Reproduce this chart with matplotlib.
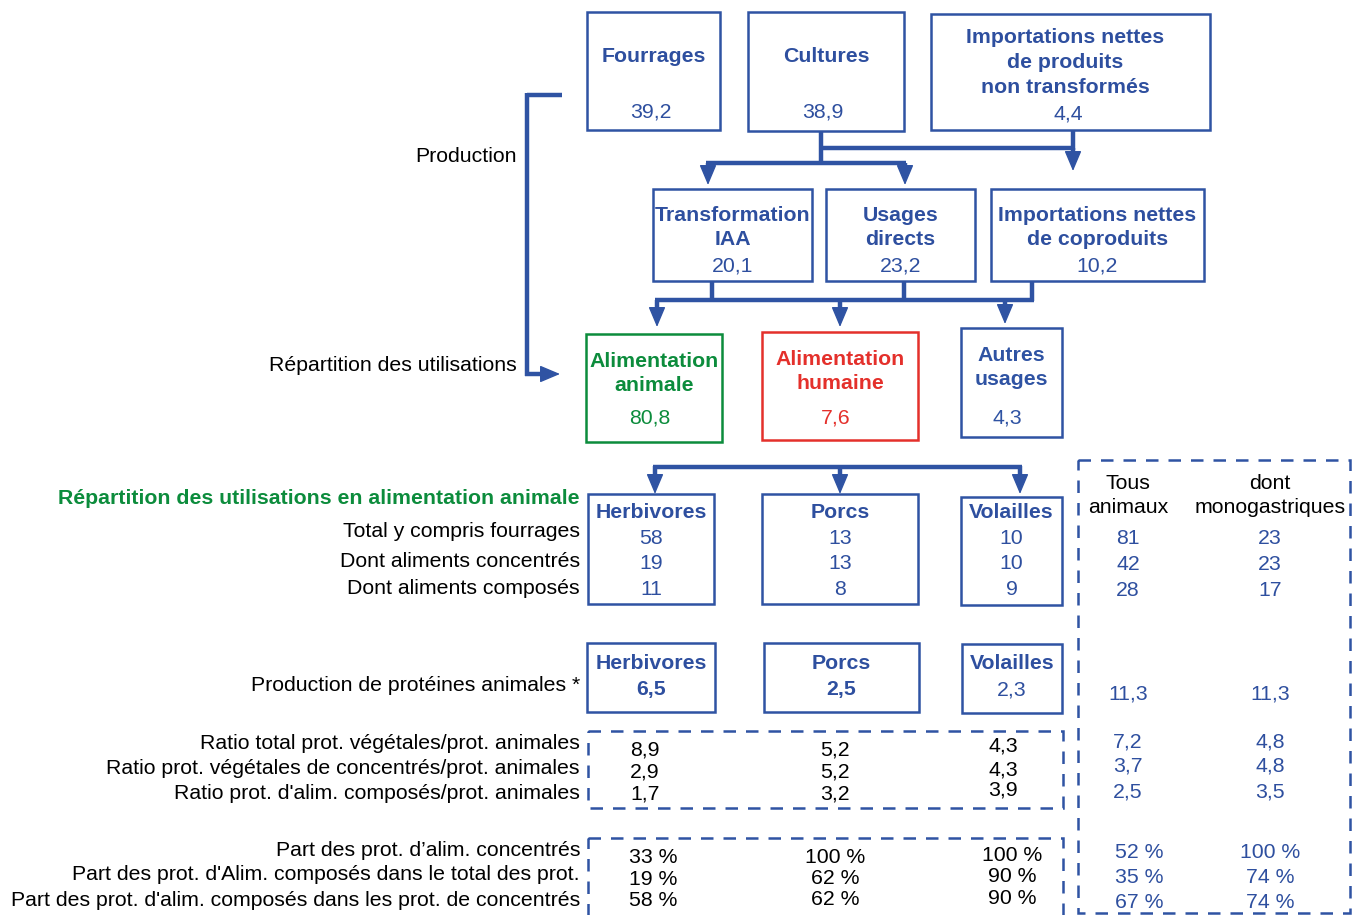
import matplotlib.pyplot as plt
from matplotlib.patches import Rectangle

plt.rcParams['font.family'] = ['Liberation Sans', 'DejaVu Sans']

BLUE = '#2f53a3'
TBLUE = '#2e4f9f'
GREEN = '#0c8c3c'
RED = '#e4302b'

# --- data ---
top_titles = ['Fourrages', 'Cultures', 'Importations nettes\nde produits\nnon transformés']
top_values = ['39,2', '38,9', '4,4']
mid_titles = ['Transformation\nIAA', 'Usages\ndirects', 'Importations nettes\nde coproduits']
mid_values = ['20,1', '23,2', '10,2']
use_titles = ['Alimentation\nanimale', 'Alimentation\nhumaine', 'Autres\nusages']
use_values = ['80,8', '7,6', '4,3']
use_colors = [GREEN, RED, BLUE]

animals = ['Herbivores', 'Porcs', 'Volailles']
feed_rows = ['Total y compris fourrages', 'Dont aliments concentrés', 'Dont aliments composés']
feed_vals = [['58', '19', '11'], ['13', '13', '8'], ['10', '10', '9']]
feed_tot = ['81', '42', '28']
feed_mono = ['23', '23', '17']

prot_vals = ['6,5', '2,5', '2,3']
prot_tot = '11,3'
prot_mono = '11,3'

ratio_rows = ['Ratio total prot. végétales/prot. animales',
              'Ratio prot. végétales de concentrés/prot. animales',
              "Ratio prot. d'alim. composés/prot. animales"]
ratio_vals = [['8,9', '2,9', '1,7'], ['5,2', '5,2', '3,2'], ['4,3', '4,3', '3,9']]
ratio_tot = ['7,2', '3,7', '2,5']
ratio_mono = ['4,8', '4,8', '3,5']

part_rows = ["Part des prot. d’alim. concentrés",
             "Part des prot. d'Alim. composés dans le total des prot.",
             "Part des prot. d'alim. composés dans les prot. de concentrés"]
part_vals = [['33 %', '19 %', '58 %'], ['100 %', '62 %', '62 %'], ['100 %', '90 %', '90 %']]
part_tot = ['52 %', '35 %', '67 %']
part_mono = ['100 %', '74 %', '74 %']

fig = plt.figure(figsize=(13.59, 9.15), dpi=100)
ax = fig.add_axes([0, 0, 1, 1])
ax.set_xlim(0, 1359)
ax.set_ylim(915, 0)
ax.axis('off')

FS = 15.3


def box(x0, y0, x1, y1, color=BLUE, lw=1.8, ls='-'):
    ax.add_patch(Rectangle((x0, y0), x1 - x0, y1 - y0, fill=False,
                           edgecolor=color, lw=lw, linestyle=ls))


def line(xs, ys, lw=3.2):
    ax.plot(xs, ys, color=BLUE, lw=lw, solid_capstyle='butt')


def head(x0, y0, x1, y1):
    ax.annotate('', xy=(x1, y1), xytext=(x0, y0),
                arrowprops=dict(arrowstyle='-|>,head_length=0.9,head_width=0.38',
                                lw=1, color=BLUE, shrinkA=0, shrinkB=0,
                                mutation_scale=14))


def arrow_down(x, y0, y1):
    line([x, x], [y0, y1 - 8])
    head(x, y1 - 14, x, y1)


def txt(x, y, s, color='black', bold=False, ha='center', size=FS, ls=1.38):
    ax.text(x, y + 1.5, s, color=color, ha=ha, va='center', fontsize=size,
            fontweight='bold' if bold else 'normal', linespacing=ls)


# --- top row ---
top_boxes = [(587, 12, 720, 130), (748, 12, 904, 131), (931, 14, 1210, 130)]
for (x0, y0, x1, y1), t, v in zip(top_boxes, top_titles, top_values):
    box(x0, y0, x1, y1)
    cx = (x0 + x1) / 2
    if '\n' in t:
        txt(cx - 5, 61, t, TBLUE, bold=True)
        txt(cx - 2, 112, v, TBLUE)
    else:
        txt(cx, 55, t, TBLUE, bold=True)
        txt(cx - 3, 110, v, TBLUE)

line([821, 821], [131, 163])
line([821, 1073], [148, 148])
line([1073, 1073], [130, 150])
arrow_down(1073, 148, 171)
line([706, 906], [163, 163])
arrow_down(708, 163, 185)
arrow_down(905, 163, 185)

# --- middle row ---
mid_boxes = [(653, 189, 812, 281), (826, 189, 975, 281), (991, 189, 1204, 281)]
for (x0, y0, x1, y1), t, v in zip(mid_boxes, mid_titles, mid_values):
    box(x0, y0, x1, y1)
    cx = (x0 + x1) / 2
    txt(cx, 226, t, TBLUE, bold=True)
    txt(cx, 265, v, TBLUE)

for x in [712, 904, 1032]:
    line([x, x], [281, 301])
line([655, 1034], [300, 300])
arrow_down(657, 300, 327)
arrow_down(840, 300, 327)
arrow_down(1005, 300, 324)

# --- uses row ---
use_boxes = [(586, 334, 722, 442), (762, 332, 918, 440), (961, 328, 1062, 437)]
for (x0, y0, x1, y1), t, v, c in zip(use_boxes, use_titles, use_values, use_colors):
    box(x0, y0, x1, y1, color=c)
    cx = (x0 + x1) / 2
    txt(cx, y0 + 38, t, c, bold=True)
    txt(cx - 4, 416, v, c)

# left bracket
line([562, 527], [95, 95])
line([527, 527], [93, 376])
line([525, 550], [374, 374])
head(545, 374, 560, 374)
txt(517, 155, 'Production', ha='right')
txt(517, 364, 'Répartition des utilisations', ha='right')

# --- feed by animal ---
line([653, 1022], [467, 467])
arrow_down(655, 466, 494)
arrow_down(840, 466, 494)
arrow_down(1020, 466, 494)

anim_boxes = [(588, 494, 714, 604), (762, 494, 918, 604), (961, 497, 1062, 605)]
for (x0, y0, x1, y1), a, vals in zip(anim_boxes, animals, feed_vals):
    box(x0, y0, x1, y1)
    cx = (x0 + x1) / 2
    txt(cx, 511, a, TBLUE, bold=True)
    for y, v in zip([537, 562, 588], vals):
        txt(cx, y, v, TBLUE)

txt(580, 497, 'Répartition des utilisations en alimentation animale', GREEN,
    bold=True, ha='right')
for y, r in zip([530, 560, 587], feed_rows):
    txt(580, y, r, ha='right')

# right dashed column
DASH = (0, (5, 4))
box(1078, 460, 1350, 913, lw=1.8, ls=DASH)
COL_T, COL_M = 1128, 1270
txt(COL_T, 494, 'Tous\nanimaux')
txt(COL_M, 494, 'dont\nmonogastriques')
for y, a, b in zip([537, 563, 589], feed_tot, feed_mono):
    txt(COL_T, y, a, TBLUE)
    txt(COL_M, y, b, TBLUE)

# --- animal protein production ---
prot_boxes = [(587, 643, 715, 712), (764, 643, 919, 712), (962, 644, 1062, 713)]
for i, ((x0, y0, x1, y1), a, v) in enumerate(zip(prot_boxes, animals, prot_vals)):
    box(x0, y0, x1, y1)
    cx = (x0 + x1) / 2
    txt(cx, 662, a, TBLUE, bold=True)
    txt(cx, 688, v, TBLUE, bold=(i < 2))
txt(580, 684, 'Production de protéines animales *', ha='right')
txt(COL_T, 692, prot_tot, TBLUE)
txt(COL_M, 692, prot_mono, TBLUE)

# --- ratios ---
box(588, 731, 1063, 808, lw=1.8, ls=DASH)
val_x = [645, 835, 1003]
for y, r in zip([742, 767, 792], ratio_rows):
    txt(580, y, r, ha='right')
for x, vals, ys in zip(val_x, ratio_vals, [[748, 770, 792], [748, 770, 792], [745, 768, 788]]):
    for y, v in zip(ys, vals):
        txt(x, y, v)
for y, a, b in zip([740, 765, 791], ratio_tot, ratio_mono):
    txt(COL_T, y, a, TBLUE)
    txt(COL_M, y, b, TBLUE)

# --- shares ---
box(588, 838, 1063, 925, lw=1.8, ls=DASH)
for y, r in zip([849, 873, 899], part_rows):
    txt(580, y, r, ha='right')
for x, vals, ys in zip([653, 835, 1012], part_vals,
                       [[856, 878, 899], [856, 877, 898], [854, 875, 897]]):
    for y, v in zip(ys, vals):
        txt(x, y, v)
for y, a, b in zip([851, 876, 901], part_tot, part_mono):
    txt(1139, y, a, TBLUE)
    txt(COL_M, y, b, TBLUE)

fig.savefig('out.png', dpi=100)
